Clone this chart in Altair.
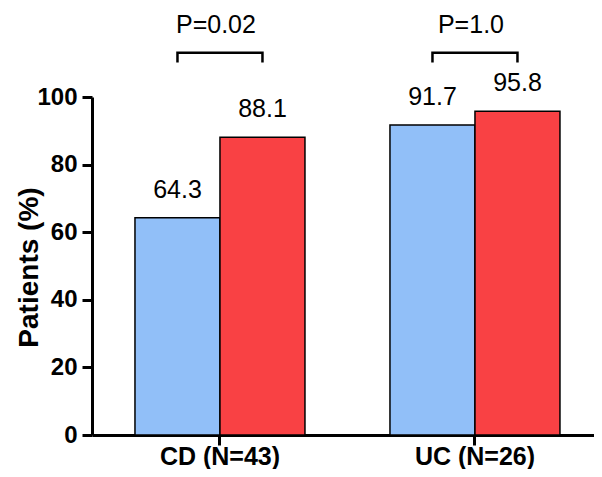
import altair as alt
import pandas as pd

categories = ["CD (N=43)", "UC (N=26)"]
groups = ["A", "B"]
values_a = [64.3, 91.7]
values_b = [88.1, 95.8]
p_labels = ["P=0.02", "P=1.0"]
bracket_top = 113.1
bracket_bottom = 110.2
p_y = 118.8

rows = []
for i, c in enumerate(categories):
    rows.append({"cat": c, "grp": "A", "val": values_a[i], "lab": f"{values_a[i]:.1f}"})
    rows.append({"cat": c, "grp": "B", "val": values_b[i], "lab": f"{values_b[i]:.1f}"})
bars_df = pd.DataFrame(rows)

br_rows = []
for c in categories:
    br_rows += [
        {"cat": c, "grp": "A", "val": bracket_bottom, "o": 0},
        {"cat": c, "grp": "A", "val": bracket_top, "o": 1},
        {"cat": c, "grp": "B", "val": bracket_top, "o": 2},
        {"cat": c, "grp": "B", "val": bracket_bottom, "o": 3},
    ]
br_df = pd.DataFrame(br_rows)
p_df = pd.DataFrame({"cat": categories, "lab": p_labels, "val": [p_y] * 2})

FONT = "Liberation Sans"
W, H = 502, 338

x_enc = alt.X(
    "cat:N",
    sort=categories,
    scale=alt.Scale(domain=categories, paddingInner=1 / 3, paddingOuter=0.151, align=0.558),
    axis=alt.Axis(
        title=None, labelAngle=0, labelFont=FONT, labelFontSize=25, labelFontWeight="bold",
        labelColor="black", domainColor="black", domainWidth=3, tickColor="black",
        tickWidth=3, tickSize=10, labelBaseline="alphabetic", labelPadding=19, grid=False,
    ),
)
xo_enc = alt.XOffset("grp:N", scale=alt.Scale(domain=groups, paddingInner=0, paddingOuter=0))
y_enc = alt.Y(
    "val:Q",
    scale=alt.Scale(domain=[0, 100], nice=False),
    axis=alt.Axis(
        title="Patients (%)", values=[0, 20, 40, 60, 80, 100], grid=False,
        labelFont=FONT, labelFontSize=24, labelFontWeight="bold", labelColor="black",
        titleFont=FONT, titleFontSize=28, titleFontWeight="bold", titleColor="black",
        titleX=-55, titleY=170, titleAngle=270, titleAlign="center",
        titleBaseline="alphabetic",
        domainColor="black", domainWidth=3, tickColor="black", tickWidth=3, tickSize=10,
        labelPadding=5,
    ),
)

base = alt.Chart(bars_df).encode(x=x_enc, y=y_enc)

bars = base.mark_bar(stroke="black", strokeWidth=1.5).encode(
    xOffset=xo_enc,
    color=alt.Color("grp:N", scale=alt.Scale(domain=groups, range=["#91BFF8", "#F94144"]), legend=None),
)

labels = base.mark_text(
    font=FONT, fontSize=25, color="black", baseline="alphabetic", dy=-20
).encode(xOffset="grp:N", text="lab:N")

brackets = alt.Chart(br_df).mark_line(color="black", strokeWidth=2.5, clip=False).encode(
    x=alt.X("cat:N", sort=categories),
    xOffset="grp:N",
    y="val:Q",
    detail="cat:N",
    order="o:Q",
)

ptext = alt.Chart(p_df).mark_text(
    font=FONT, fontSize=25, color="black", baseline="alphabetic", dx=-4
).encode(
    x=alt.X("cat:N", sort=categories),
    y="val:Q",
    text="lab:N",
)

chart = alt.layer(bars, labels, brackets, ptext).properties(
    width=W,
    height=H,
    background="white",
    autosize=alt.AutoSizeParams(type="none"),
    padding={"left": 84, "top": 89, "right": 0, "bottom": 34},
).configure_view(stroke=None, strokeWidth=0).configure_axis(grid=False)

chart.save("out.html", embed_options={"renderer": "svg", "actions": False})
